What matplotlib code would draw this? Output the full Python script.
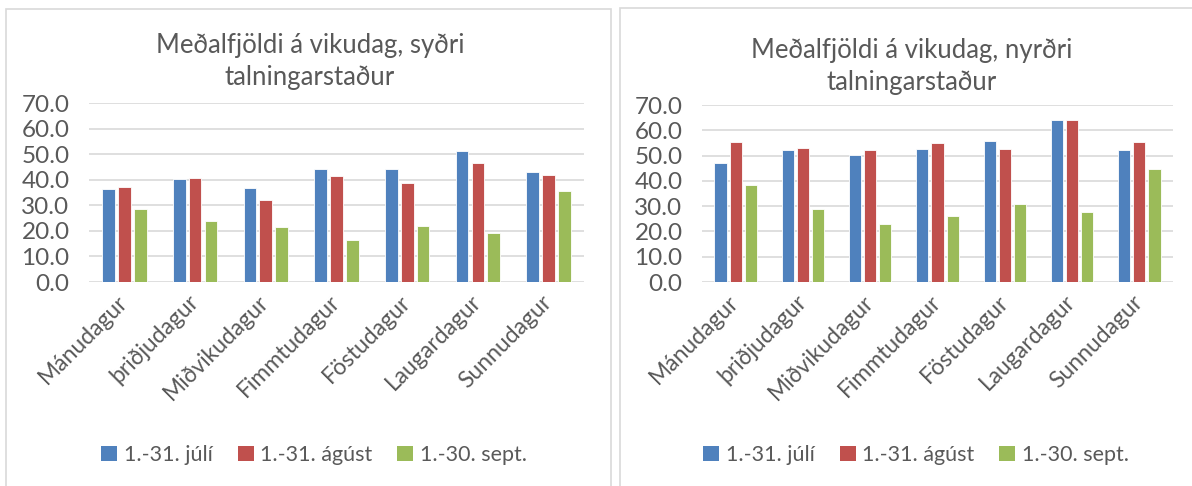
import numpy as np
import matplotlib.pyplot as plt
from matplotlib.patches import Rectangle, Patch

days = ['Mánudagur', 'þriðjudagur', 'Miðvikudagur', 'Fimmtudagur', 'Föstudagur', 'Laugardagur', 'Sunnudagur']
series = ['1.-31. júlí', '1.-31. ágúst', '1.-30. sept.']
colors = ['#4F81BD', '#C0504D', '#9BBB59']

sydri_jul = [36.5, 40.3, 36.9, 44.2, 44.2, 51.4, 42.9]
sydri_agu = [37.3, 40.5, 32.1, 41.3, 38.7, 46.4, 42.0]
sydri_sep = [28.4, 23.7, 21.6, 16.3, 21.8, 19.0, 35.7]

nyrdri_jul = [47.1, 52.2, 50.1, 52.6, 55.8, 63.9, 52.1]
nyrdri_agu = [55.2, 53.1, 52.1, 55.0, 52.6, 63.9, 55.2]
nyrdri_sep = [38.5, 29.0, 22.9, 26.0, 31.0, 27.8, 44.7]

txt = '#595959'
grid = '#D9D9D9'
plt.rcParams['font.family'] = ['Lato', 'DejaVu Sans']

fig = plt.figure(figsize=(11.92, 4.86), dpi=100)
W, H = 1192, 486

# panel frames
fig.patches.append(Rectangle((6 / W, -0.05), 605 / W, 1.05 - 9 / H, transform=fig.transFigure,
                             fill=False, edgecolor=grid, lw=1.2))
fig.patches.append(Rectangle((620 / W, -0.05), 600 / W, 1.05 - 8 / H, transform=fig.transFigure,
                             fill=False, edgecolor=grid, lw=1.2))

panels = [
    ([89, 584, 103, 282], [sydri_jul, sydri_agu, sydri_sep], 'Meðalfjöldi á vikudag, syðri\ntalningarstaður', 310, 62, 314),
    ([702, 1173, 105, 282], [nyrdri_jul, nyrdri_agu, nyrdri_sep], 'Meðalfjöldi á vikudag, nyrðri\ntalningarstaður', 912, 66, 916),
]

for (x0, x1, yt, yb), vals, title, tx, ty, lx in panels:
    ax = fig.add_axes([x0 / W, (H - yb) / H, (x1 - x0) / W, (yb - yt) / H])
    x = np.arange(len(days))
    for i, (v, c) in enumerate(zip(vals, colors)):
        ax.bar(x + (i - 1) * 0.225, v, width=0.18, color=c, edgecolor='white', lw=0.6, zorder=3)
    ax.set_xlim(-0.5, len(days) - 0.5)
    ax.set_ylim(0, 70)
    ax.set_yticks(np.arange(0, 71, 10))
    ax.set_yticklabels([f"{t:.1f}" for t in np.arange(0, 71, 10)], fontsize=17.5, color=txt)
    ax.yaxis.grid(True, color=grid, lw=1.2, zorder=0)
    for s in ax.spines.values(): s.set_visible(False)
    ax.tick_params(length=0)
    ax.tick_params(axis='y', pad=14)
    ax.set_xticks(x)
    ax.set_xticklabels(days, rotation=45, ha='right', va='center', rotation_mode='anchor',
                       fontsize=16.5, color=txt)
    ax.tick_params(axis='x', pad=12)
    fig.text(tx / W, (H - ty) / H, title, ha='center', va='center', fontsize=18.5, color=txt, linespacing=1.35)
    handles = [Patch(facecolor=c, edgecolor='none') for c in colors]
    fig.legend(handles, series, loc='center', bbox_to_anchor=(lx / W, (H - 455) / H), ncol=3,
               frameon=False, fontsize=15.5, labelcolor=txt, handlelength=0.75, handleheight=0.75,
               handletextpad=0.3, columnspacing=1.15)

fig.savefig('out.png', dpi=100)
